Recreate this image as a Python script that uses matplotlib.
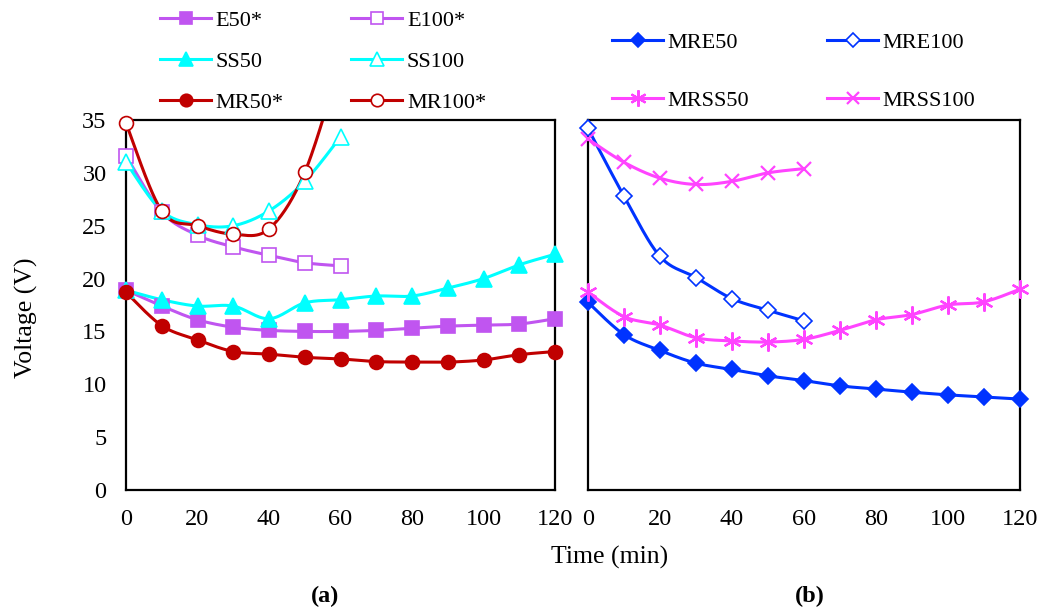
import numpy as np
import matplotlib
matplotlib.use('Agg')
import matplotlib.pyplot as plt

plt.rcParams['font.family'] = ['Liberation Serif', 'DejaVu Serif']

# time axis (min)
t_full = [0, 10, 20, 30, 40, 50, 60, 70, 80, 90, 100, 110, 120]
t_half = [0, 10, 20, 30, 40, 50, 60]

# (a) values, volts
e50 = [18.9, 17.4, 16.1, 15.4, 15.1, 15.0, 15.0, 15.1, 15.3, 15.5, 15.6, 15.7, 16.2]
e100 = [31.6, 26.3, 24.1, 23.0, 22.2, 21.5, 21.2]
ss50 = [18.9, 18.0, 17.4, 17.4, 16.2, 17.7, 18.0, 18.35, 18.35, 19.1, 20.0, 21.3, 22.3]
ss100 = [31.0, 26.4, 25.1, 25.0, 26.4, 29.2, 33.4]
mr50 = [18.7, 15.55, 14.2, 13.1, 12.85, 12.55, 12.4, 12.15, 12.1, 12.1, 12.3, 12.8, 13.1]
mr100 = [34.7, 26.4, 25.0, 24.2, 24.7, 30.05, 40.6]

# (b) values, volts
mre50 = [17.75, 14.7, 13.2, 12.0, 11.4, 10.8, 10.35, 9.85, 9.55, 9.25, 9.0, 8.8, 8.6]
mre100 = [34.2, 27.8, 22.1, 20.1, 18.1, 17.0, 16.0]
mrss50 = [18.7, 16.4, 15.6, 14.4, 14.1, 14.0, 14.25, 15.1, 16.1, 16.6, 17.5, 17.8, 19.0]
mrss100 = [33.2, 31.0, 29.5, 28.9, 29.2, 30.0, 30.4]

purple = '#C055F0'
cyan = '#00FFFF'
red = '#C00000'
blue = '#0033FF'
pink = '#FF44FF'


def smooth(x, y, n=30):
    # excel-like smoothed line (bezier through the points)
    x = np.asarray(x, float)
    y = np.asarray(y, float)
    p = np.column_stack([x, y])
    pp = np.vstack([p[0], p, p[-1]])
    out = []
    s = np.linspace(0, 1, n)[:, None]
    for i in range(len(p) - 1):
        p0 = pp[i + 1]
        p3 = pp[i + 2]
        c1 = p0 + (pp[i + 2] - pp[i]) / 6
        c2 = p3 - (pp[i + 3] - pp[i + 1]) / 6
        seg = ((1 - s) ** 3) * p0 + 3 * s * (1 - s) ** 2 * c1 + 3 * s ** 2 * (1 - s) * c2 + s ** 3 * p3
        out.append(seg)
    out = np.vstack(out)
    return out[:, 0], out[:, 1]


def series(ax, x, y, color, marker, label, filled=True, ms=10, mew=1.2):
    sx, sy = smooth(x, y)
    ax.plot(sx, sy, color=color, lw=2.2, solid_capstyle='round')
    x = np.asarray(x)
    y = np.asarray(y)
    inside = y <= ax.get_ylim()[1]  # points above the top are not marked
    ax.plot(x[inside], y[inside], ls='none', marker=marker, ms=ms, mew=mew,
            mfc=color if filled else 'white', mec=color, clip_on=False, zorder=4)
    # legend proxy
    h, = ax.plot([], [], color=color, lw=2.2, marker=marker, ms=ms * 0.9, mew=mew,
                 mfc=color if filled else 'white', mec=color, label=label)
    return h


fig = plt.figure(figsize=(10.43, 6.10), dpi=100)
ax1 = fig.add_axes([126 / 1043, 120 / 610, 429 / 1043, 370 / 610])
ax2 = fig.add_axes([588 / 1043, 120 / 610, 432 / 1043, 370 / 610])
for ax in (ax1, ax2):
    ax.set_xlim(0, 120)
    ax.set_ylim(0, 35)

h = {}
h['e50'] = series(ax1, t_full, e50, purple, 's', 'E50*', ms=10)
h['e100'] = series(ax1, t_half, e100, purple, 's', 'E100*', filled=False, ms=10)
h['ss50'] = series(ax1, t_full, ss50, cyan, '^', 'SS50', ms=11)
h['ss100'] = series(ax1, t_half, ss100, cyan, '^', 'SS100', filled=False, ms=11)
h['mr50'] = series(ax1, t_full, mr50, red, 'o', 'MR50*', ms=10)
h['mr100'] = series(ax1, t_half, mr100, red, 'o', 'MR100*', filled=False, ms=10)

h['mre50'] = series(ax2, t_full, mre50, blue, 'D', 'MRE50', ms=8)
h['mre100'] = series(ax2, t_half, mre100, blue, 'D', 'MRE100', filled=False, ms=8)
h['mrss50'] = series(ax2, t_full, mrss50, pink, (6, 2, 0), 'MRSS50', ms=13, mew=1.6)
h['mrss100'] = series(ax2, t_half, mrss100, pink, 'x', 'MRSS100', ms=10, mew=1.6)

for ax in (ax1, ax2):
    ax.set_xticks(range(0, 121, 20))
    ax.set_yticks(range(0, 36, 5))
    ax.tick_params(length=0, labelsize=17.5, pad=14)
    for sp in ax.spines.values():
        sp.set_linewidth(1.6)
        sp.set_color('black')
ax2.set_yticklabels([])

fig.legend([h['e50'], h['ss50'], h['mr50'], h['e100'], h['ss100'], h['mr100']],
           ['E50*', 'SS50', 'MR50*', 'E100*', 'SS100', 'MR100*'],
           ncol=2, loc='upper left', bbox_to_anchor=(140 / 1043, 1 + 10 / 610),
           frameon=False, fontsize=16, handlelength=2.3, labelspacing=0.93,
           columnspacing=3.05, handletextpad=0.2)
fig.legend([h['mre50'], h['mrss50'], h['mre100'], h['mrss100']],
           ['MRE50', 'MRSS50', 'MRE100', 'MRSS100'],
           ncol=2, loc='upper left', bbox_to_anchor=(592 / 1043, 1 - 12 / 610),
           frameon=False, fontsize=16, handlelength=2.3, labelspacing=1.69,
           columnspacing=3.5, handletextpad=0.2)

fig.text(26 / 1043, 1 - 318 / 610, 'Voltage (V)', rotation=90, fontsize=18.5,
         ha='center', va='center')
fig.text(610 / 1043, 1 - 557 / 610, 'Time (min)', fontsize=18.5, ha='center', va='center')
fig.text(325 / 1043, 1 - 596 / 610, '(a)', fontsize=17.5, fontweight='bold', ha='center', va='center')
fig.text(810 / 1043, 1 - 596 / 610, '(b)', fontsize=17.5, fontweight='bold', ha='center', va='center')

fig.savefig('out.png', dpi=100)
